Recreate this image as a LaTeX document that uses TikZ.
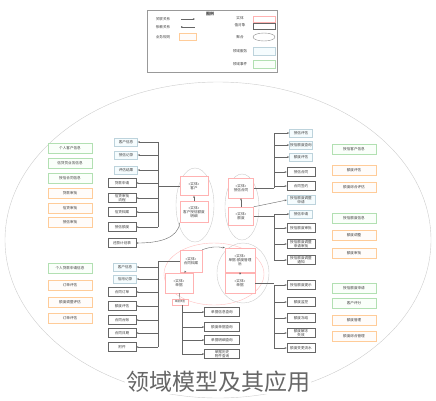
\documentclass[tikz,border=0pt]{standalone}
\usepackage{fontspec}
\newfontfamily\cjk{Noto Sans CJK SC}
\usetikzlibrary{positioning,arrows.meta,shapes.geometric}

\begin{document}
\begin{tikzpicture}[x=1pt,y=-1pt,
  every node/.style={font=\cjk\fontsize{3.6}{4.3}\selectfont,inner sep=0.8pt,align=center,text=black!75},
  entity/.style={rectangle,draw=red!30,fill=white,minimum width=28pt,minimum height=19pt},
  valbox/.style={rectangle,draw=black!60,fill=white,minimum width=28pt,minimum height=9pt},
  svcbox/.style={rectangle,draw=cyan!50!black!30,fill=cyan!4,minimum width=23pt,minimum height=8pt},
  evtbox/.style={rectangle,draw=green!60!black!30,fill=green!2,minimum width=44pt,minimum height=10pt},
  rulebox/.style={rectangle,draw=orange!40,fill=orange!2,minimum width=44pt,minimum height=10pt},
  wire/.style={draw=black!60,line width=0.4pt},
  link/.style={wire,-{Stealth[length=2.2pt,width=1.8pt]}},
  bubble/.style={draw=black!20,line width=0.4pt}]
  \useasboundingbox (0,0) rectangle (436,400);

  % legend
  \node[draw=black!40,minimum width=130pt,minimum height=62pt] (legend) at (212,41) {};
  \node[font=\cjk\fontsize{4}{5}\selectfont\bfseries] (lgtitle) at (210,14) {图例};
  \node (lgassoc) at (163,19) {关联关系};
  \node (lgdep) at (163,27) {依赖关系};
  \node (lgrule) at (163,37) {业务规则};
  \coordinate (assocA) at (181,19);
  \coordinate (assocB) at (195,19);
  \coordinate (depA) at (181,27);
  \coordinate (depB) at (195,27);
  \draw[link] (assocA) -- (assocB);
  \draw[link,{Circle[length=1.5pt]}-] (depA) -- (depB);
  \node[rulebox,minimum width=17pt,minimum height=7pt] (lgrulebox) at (188,37) {};
  \node (lgent) at (240,18) {实体};
  \node (lgval) at (240,25) {值对象};
  \node (lgagg) at (240,37) {聚合};
  \node (lgsvc) at (240,51) {领域服务};
  \node (lgevt) at (240,64) {领域事件};
  \node[entity,minimum width=22pt,minimum height=6pt] (lgentbox) at (264,19) {};
  \node[valbox,minimum width=22pt,minimum height=6pt] (lgvalbox) at (264,26) {};
  \node[ellipse,draw=black!45,minimum width=22pt,minimum height=8pt] (lgaggbox) at (264,37) {};
  \node[svcbox,minimum width=22pt,minimum height=8pt] (lgsvcbox) at (264,51) {};
  \node[evtbox,minimum width=22pt,minimum height=8pt] (lgevtbox) at (264,64) {};

  % bounded context
  \draw[bubble] (218,240) ellipse [x radius=213, y radius=158];
  \draw[bubble] (195,205) ellipse [x radius=19, y radius=37];
  \draw[bubble] (242,207) ellipse [x radius=17, y radius=33];
  \draw[bubble,draw=red!25] (214,274) ellipse [x radius=50, y radius=31];
  \draw[bubble] (243,273) ellipse [x radius=26, y radius=30];

  % entities
  \node[entity] (kehu) at (194,186) {«实体»\\客户};
  \node[entity,minimum height=21pt] (mingxi) at (194,212) {«实体»\\客户授信额度\\明细};
  \node[entity,minimum width=25pt,minimum height=20pt] (hetong) at (241,188) {«实体»\\授信合同};
  \node[entity,minimum width=25pt,minimum height=18pt] (edu) at (241,216) {«实体»\\额度};
  \node[entity,minimum width=22pt,minimum height=22pt] (dangan) at (191,261) {«实体»\\合同档案};
  \node[entity,minimum width=30pt,minimum height=24pt] (eduguanli) at (240,260) {«实体»\\单据-额度管理\\后};
  \node[entity,minimum width=30pt,minimum height=20pt] (danju) at (240,283) {«实体»\\单据};
  \node[entity,minimum width=28pt,minimum height=20pt] (piaoju) at (179,283) {«实体»\\单据};
  \node[entity,font=\cjk\fontsize{2.6}{3}\selectfont,minimum width=16pt,minimum height=6pt] (leixing) at (180,302) {单据类型};

  \draw[link] (mingxi) -- (kehu);
  \draw[link] (edu) -- (hetong);
  \draw[link] (dangan.north east) to[bend left=15] (eduguanli.north west);
  \draw[link] (danju) -- (eduguanli);
  \draw[link] (dangan) -- (piaoju);
  \draw[wire] (piaoju) -- (leixing);

  % left events and rules
  \node[evtbox] (ev1) at (70,148) {个人客户信息};
  \node[evtbox] (ev2) at (70,163) {信贷员业务信息};
  \node[evtbox] (ev3) at (70,178) {授信合同信息};
  \node[rulebox] (ru1) at (70,193) {贷款审批};
  \node[rulebox] (ru2) at (70,208) {信贷审批};
  \node[rulebox] (ru3) at (70,222) {授信审批};
  \node[evtbox] (ev4) at (70,268) {个人贷款申请信息};
  \node[rulebox] (ru4) at (70,285) {订单评估};
  \node[rulebox] (ru5) at (70,302) {额度调整评估};
  \node[rulebox] (ru6) at (70,318) {订单评估};

  % left upper group
  \node[svcbox] (s1) at (126,142) {客户信息};
  \node[svcbox] (s2) at (126,155) {授信记录};
  \node[svcbox] (s3) at (126,170) {评估结果};
  \node[valbox] (v1) at (122,183) {贷款申请};
  \node[valbox] (v2) at (122,198) {信贷审批\\流程};
  \node[valbox] (v3) at (122,212) {信贷档案};
  \node[valbox] (v4) at (122,227) {授信额度};
  \node[valbox] (v5) at (122,243) {还款计划表};
  \coordinate (busL) at (158,0);
  \draw[wire] (busL |- s1) -- (busL |- v4);
  \draw[wire] (kehu.west) -- (busL |- kehu);
  \foreach \n in {s1,s2,s3,v1,v2,v3,v4}
    \draw[link] (busL |- \n) -- (\n.east);
  \draw[link] (mingxi.south west) .. controls (178,238) and (160,243) .. (v5.east);

  % left lower group
  \node[svcbox] (s4) at (125,267) {客户信息};
  \node[svcbox] (s5) at (125,279) {信用记录};
  \node[valbox] (v6) at (122,292) {合同订单};
  \node[valbox] (v7) at (122,306) {额度评估};
  \node[valbox] (v8) at (122,320) {合同台账};
  \node[valbox] (v9) at (122,333) {合同日期};
  \node[valbox] (v10) at (122,347) {附件};
  \draw[wire] (busL |- dangan) -- (busL |- v10);
  \draw[wire] (dangan.west) -- (busL |- dangan);
  \foreach \n in {s4,s5,v6,v7,v8,v9,v10}
    \draw[link] (busL |- \n) -- (\n.east);

  % lower middle group
  \node[valbox,minimum width=35pt] (m1) at (222,312) {单据信息查询};
  \node[valbox,minimum width=35pt] (m2) at (222,327) {额度单据查询};
  \node[valbox,minimum width=35pt] (m3) at (222,340) {单据明细查询};
  \node[valbox,minimum width=35pt] (m4) at (222,354) {单据历史\\附件查询};
  \coordinate (busM) at (182,0);
  \draw[wire] (leixing.south -| busM) -- (busM |- m4);
  \foreach \n in {m1,m2,m3,m4}
    \draw[link] (busM |- \n) -- (\n.west);

  % right groups
  \node[svcbox] (r1) at (301,133) {授信评估};
  \node[svcbox] (r2) at (301,145) {授信额度查询};
  \node[svcbox] (r3) at (301,157) {额度评估};
  \node[valbox] (r4) at (301,172) {授信合同};
  \node[valbox] (r5) at (301,186) {合同签约};
  \node[svcbox,minimum width=28pt] (r6) at (301,200) {授信额度调整\\申请};
  \node[svcbox] (r7) at (301,214) {授信申请};
  \node[valbox] (r8) at (301,228) {授信额度审批};
  \node[valbox] (r9) at (301,244) {授信额度调整\\申请审批};
  \node[valbox] (r10) at (301,260) {授信额度调整\\通知};
  \node[valbox] (r11) at (301,285) {授信额度提示};
  \node[valbox] (r12) at (301,302) {额度监控};
  \node[valbox] (r13) at (301,318) {额度冻结};
  \node[valbox] (r14) at (301,333) {额度解冻\\失效};
  \node[valbox] (r15) at (301,348) {额度变更流水};
  \coordinate (busR) at (274,0);
  \draw[wire] (busR |- r1) -- (busR |- hetong);
  \draw[wire] (hetong.east) -- (busR |- hetong);
  \foreach \n in {r1,r2,r3,r4,r5}
    \draw[link] (busR |- \n) -- (\n.west);
  \draw[link] (edu.north east) -- (r6.west);
  \draw[wire] (busR |- r7) -- (busR |- r10);
  \draw[wire] (edu.east) -- (busR |- edu);
  \foreach \n in {r7,r8,r9,r10}
    \draw[link] (busR |- \n) -- (\n.west);
  \draw[wire] (busR |- r11) -- (busR |- r15);
  \draw[wire] (danju.east) -- (busR |- danju);
  \foreach \n in {r11,r12,r13,r14,r15}
    \draw[link] (busR |- \n) -- (\n.west);

  % right events and rules
  \node[evtbox] (ev5) at (354,149) {授信客户信息};
  \node[rulebox] (ru7) at (354,170) {额度评估};
  \node[rulebox] (ru8) at (354,187) {额度综合评估};
  \node[evtbox] (ev6) at (354,218) {授信额度信息};
  \node[rulebox] (ru9) at (354,235) {额度调整};
  \node[rulebox] (ru10) at (354,253) {额度审批};
  \node[evtbox] (ev7) at (354,288) {授信额度申请};
  \node[evtbox] (ev8) at (354,303) {客户评分};
  \node[rulebox] (ru11) at (354,320) {额度管理};
  \node[rulebox] (ru12) at (354,336) {额度综合管理};

  % title
  \node[font=\cjk\fontsize{23}{26}\selectfont,text=black!60,fill=white,inner sep=1pt] (title) at (218,382) {领域模型及其应用};
\end{tikzpicture}
\end{document}
